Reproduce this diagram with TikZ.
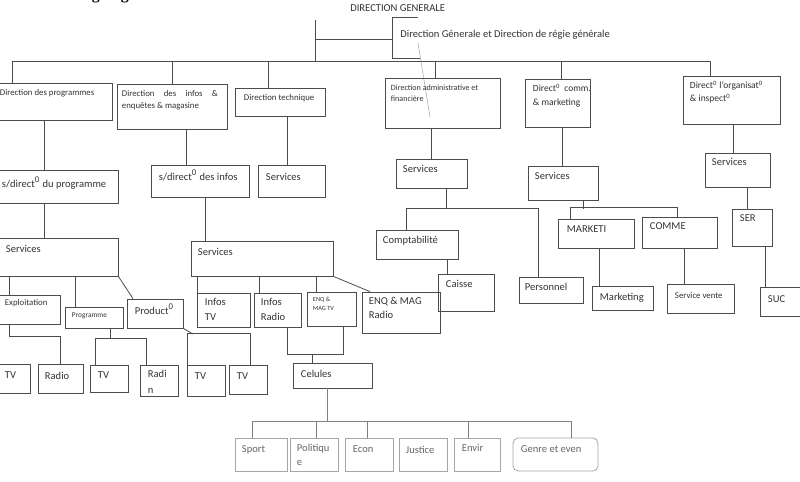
\documentclass[tikz,border=0pt]{standalone}
\usepackage{fontspec}
\setmainfont{Carlito}
\newfontfamily\titlefont{Liberation Serif}
\usetikzlibrary{fit}

\tikzset{
  box/.style={draw=black!70, line width=0.45pt, inner sep=0pt},
  pale/.style={box, draw=black!35},
  lbl/.style={anchor=north west, inner sep=0pt, align=left, text=black!80,
    font=\fontsize{6}{8}\selectfont},
  smalltxt/.style={font=\fontsize{5}{7}\selectfont},
  tinytxt/.style={font=\fontsize{4.2}{5.4}\selectfont},
  link/.style={draw=black!70, line width=0.45pt},
}

\begin{document}
\begin{tikzpicture}[x=0.02cm, y=-0.02cm]
\useasboundingbox (0,0) rectangle (800,481);
\fill[white] (0,0) rectangle (800,481);

% title, cut by the top edge
\node[anchor=south west, inner sep=0pt, font=\titlefont\bfseries\fontsize{9}{9}\selectfont] (titre) at (55,3) {7. Organigramme};

% top: direction generale
\node[lbl] (dg) at (350,4) {DIRECTION GENERALE};
\node[lbl] (dgr) at (400,30) {Direction Génerale et Direction de régie générale};
\coordinate (trunk) at (315,20);
\coordinate (bus) at (315,61);
\draw[link] (trunk) -- (bus);
\draw[link] (trunk |- 0,39) -- (392,39);
\draw[link] (418,17) -| (392,58) -- (420,58);
\draw[black!35, line width=0.3pt] (418,43) -- (430,117);

% first level
\node[box, fit={(-5,83) (112,120)}] (dprog) {};
\node[lbl, smalltxt] at ([shift={(5,6)}]dprog.north west) {Direction des programmes};
\node[box, fit={(117,84) (227,129)}] (dinfo) {};
\node[lbl, smalltxt, text width=1.92cm, align=justify] at ([shift={(5,6)}]dinfo.north west) {Direction des infos \& \mbox{enquêtes} \& magasine};
\node[box, fit={(235,88) (325,116)}] (dtech) {};
\node[lbl, smalltxt] at ([shift={(9,6)}]dtech.north west) {Direction technique};
\node[box, fit={(385,78) (500,128)}] (dadm) {};
\node[lbl, font=\fontsize{4.6}{6}\selectfont] at ([shift={(6,7)}]dadm.north west) {Direction administrative et\\financière};
\node[box, fit={(525,79) (590,127)}] (dcom) {};
\node[lbl, font=\fontsize{5.4}{7.8}\selectfont, text width=1.16cm, align=justify] at ([shift={(8,5)}]dcom.north west) {Direct\textsuperscript{0} comm. \& marketing};
\node[box, fit={(683,76) (780,124)}] (dorg) {};
\node[lbl, font=\fontsize{5.4}{7.4}\selectfont] at ([shift={(7,5)}]dorg.north west) {Direct\textsuperscript{0} l'organisat\textsuperscript{0}\\\& inspect\textsuperscript{0}};

\draw[link] (dprog.north -| 12,0) |- (bus);
\draw[link] (dinfo.north -| 172,0) |- (bus);
\draw[link] (dtech.north -| 268,0) |- (bus);
\draw[link] (dadm.north -| 435,0) |- (bus);
\draw[link] (dcom.north -| 561,0) |- (bus);
\draw[link] (dorg.north -| 710,0) |- (bus);

% second level
\node[box, fit={(-5,170) (118,203)}] (sdprog) {};
\node[lbl] at ([shift={(7,7)}]sdprog.north west) {s/direct\textsuperscript{0} du programme};
\node[box, fit={(151,165) (249,197)}] (sdinf) {};
\node[lbl] at ([shift={(8,5)}]sdinf.north west) {s/direct\textsuperscript{0} des infos};
\node[box, fit={(258,165) (325,197)}] (stech) {};
\node[lbl] at ([shift={(8,8)}]stech.north west) {Services};
\node[box, fit={(396,159) (467,188)}] (sadm) {};
\node[lbl] at ([shift={(7,6)}]sadm.north west) {Services};
\node[box, fit={(528,166) (598,200)}] (scom) {};
\node[lbl] at ([shift={(7,6)}]scom.north west) {Services};
\node[box, fit={(705,153) (770,187)}] (sorg) {};
\node[lbl] at ([shift={(7,5)}]sorg.north west) {Services};

\draw[link] (dprog.south -| 44,0) -- (sdprog.north -| 44,0);
\draw[link] (dinfo.south -| 186,0) -- (sdinf.north -| 186,0);
\draw[link] (dtech.south -| 287,0) -- (stech.north -| 287,0);
\draw[link] (dadm.south -| 431,0) -- (sadm.north -| 431,0);
\draw[link] (dcom.south -| 562,0) -- (scom.north -| 562,0);
\draw[link] (dorg.south -| 733,0) -- (sorg.north -| 733,0);

% services of the programmes and of the infos
\node[box, fit={(-5,238) (118,276)}] (sprog) {};
\node[lbl] at ([shift={(11,7)}]sprog.north west) {Services};
\node[box, fit={(191,241) (333,276)}] (sinf) {};
\node[lbl] at ([shift={(7,7)}]sinf.north west) {Services};
\draw[link] (sdprog.south -| 44,0) -- (sprog.north -| 44,0);
\draw[link] (sdinf.south -| 205,0) -- (sinf.north -| 205,0);

% admin
\node[box, fit={(376,230) (458,259)}] (compta) {};
\node[lbl] at ([shift={(7,6)}]compta.north west) {Comptabilité};
\node[box, fit={(438,274) (494,311)}] (caisse) {};
\node[lbl] at ([shift={(8,6)}]caisse.north west) {Caisse};
\node[box, fit={(519,277) (583,303)}] (perso) {};
\node[lbl] at ([shift={(6,6)}]perso.north west) {Personnel};
\draw[link] (sadm.south -| 446,0) -- ++(0,21);
\draw[link] (compta.north -| 406,0) -- ++(0,-21) -| (perso.north -| 538,0);
\draw[link] (compta.south -| 447,0) -- (caisse.north -| 447,0);

% comm
\node[box, fit={(558,219) (634,248)}] (mkt) {};
\node[lbl] at ([shift={(9,7)}]mkt.north west) {MARKETI};
\node[box, fit={(642,217) (717,248)}] (comme) {};
\node[lbl] at ([shift={(8,6)}]comme.north west) {COMME};
\node[box, fit={(592,286) (653,310)}] (mktg) {};
\node[lbl] at ([shift={(8,7)}]mktg.north west) {Marketing};
\node[box, fit={(667,284) (734,313)}] (svente) {};
\node[lbl, smalltxt] at ([shift={(8,8)}]svente.north west) {Service vente};
\draw[link] (scom.south -| 583,0) -- ++(0,9);
\draw[link] (mkt.north -| 570,0) -- ++(0,-11) -| (comme.north -| 677,0);
\draw[link] (mkt.south -| 599,0) -- (mktg.north -| 599,0);
\draw[link] (comme.south -| 684,0) -- (svente.north -| 684,0);

% organisation
\node[box, fit={(732,209) (772,246)}] (ser) {};
\node[lbl] at ([shift={(8,6)}]ser.north west) {SER};
\node[box, fit={(760,287) (805,316)}] (suc) {};
\node[lbl] at ([shift={(8,9)}]suc.north west) {SUC};
\draw[link] (sorg.south -| 747,0) -- (ser.north -| 747,0);
\draw[link] (ser.south -| 765,0) -- (suc.north -| 765,0);

% under services of the programmes
\node[box, fit={(-5,295) (60,324)}] (expl) {};
\node[lbl, smalltxt] at ([shift={(10,4)}]expl.north west) {Exploitation};
\node[box, fit={(65,307) (123,328)}] (progm) {};
\node[lbl, tinytxt] at ([shift={(7,6)}]progm.north west) {Programme};
\node[box, fit={(127,299) (183,328)}] (prod) {};
\node[lbl] at ([shift={(8,5)}]prod.north west) {Product\textsuperscript{0}};
\draw[link] (sprog.south -| 9,0) -- (expl.north -| 9,0);
\draw[link] (sprog.south -| 75,0) -- (progm.north -| 75,0);
\draw[link] (sprog.south east) -- (prod.north -| 133,0);

\node[box, fit={(-5,364) (30,393)}] (tva) {};
\node[lbl] at ([shift={(10,8)}]tva.north west) {TV};
\node[box, fit={(38,364) (83,393)}] (radioa) {};
\node[lbl] at ([shift={(7,8)}]radioa.north west) {Radio};
\node[box, fit={(90,365) (128,392)}] (tvb) {};
\node[lbl] at ([shift={(8,7)}]tvb.north west) {TV};
\node[box, fit={(140,365) (178,396)}] (radib) {};
\node[lbl, font=\fontsize{6}{9}\selectfont] at ([shift={(8,5)}]radib.north west) {Radi\\n};
\node[box, fit={(187,365) (225,396)}] (tvc) {};
\node[lbl] at ([shift={(8,8)}]tvc.north west) {TV};
\node[box, fit={(229,365) (267,394)}] (tvd) {};
\node[lbl] at ([shift={(8,8)}]tvd.north west) {TV};

\draw[link] (expl.south -| 9,0) -- ++(0,12) -| (radioa.north -| 60,0);
\coordinate (pj) at (110,339);
\draw[link] (progm.south -| 110,0) -- (pj);
\draw[link] (tvb.north -| 95,0) -- ++(0,-26) -| (radib.north -| 146,0);
\coordinate (qj) at (193,334);
\draw[link] (prod.south east) -- (qj);
\draw[link] (tvc.north -| 187,0) -- ++(0,-31) -| (tvd.north -| 250,0);

% under services of the infos
\node[box, fit={(197,293) (250,327)}] (inftv) {};
\node[lbl, font=\fontsize{6}{8.6}\selectfont] at ([shift={(8,5)}]inftv.north west) {Infos\\TV};
\node[box, fit={(254,293) (301,327)}] (infradio) {};
\node[lbl, font=\fontsize{6}{8.6}\selectfont] at ([shift={(7,5)}]infradio.north west) {Infos\\Radio};
\node[box, fit={(307,292) (356,326)}] (enqtv) {};
\node[lbl, font=\fontsize{3.6}{5}\selectfont] at ([shift={(6,5)}]enqtv.north west) {ENQ \&\\MAG TV};
\node[box, fit={(362,292) (440,333)}] (enqradio) {};
\node[lbl, font=\fontsize{6}{8}\selectfont] at ([shift={(7,5)}]enqradio.north west) {ENQ \& MAG\\Radio};
\draw[link] (sinf.south -| 197,0) -- (inftv.north -| 197,0);
\draw[link] (sinf.south -| 259,0) -- (infradio.north -| 259,0);
\draw[link] (sinf.south -| 316,0) -- (enqtv.north -| 316,0);
\draw[link] (sinf.south east) -- (enqradio.north -| 370,0);

\node[box, fit={(293,363) (372,388)}] (cel) {};
\node[lbl] at ([shift={(8,7)}]cel.north west) {Celules};
\coordinate (cj) at (312,354);
\draw[link] (infradio.south -| 287,0) -- (287,354) -- (343,354) -- (enqtv.south -| 343,0);
\draw[link] (cel.north -| cj) -- (cj);

% cellules
\node[pale, fit={(235,438) (287,471)}] (sport) {};
\node[lbl, text=black!60] at ([shift={(7,8)}]sport.north west) {Sport};
\node[pale, fit={(290,438) (338,471)}] (polit) {};
\node[lbl, text=black!60, font=\fontsize{6}{8}\selectfont] at ([shift={(7,6)}]polit.north west) {Politiqu\\e};
\node[pale, fit={(345,438) (393,471)}] (econ) {};
\node[lbl, text=black!60] at ([shift={(8,8)}]econ.north west) {Econ};
\node[pale, fit={(399,438) (447,471)}] (justice) {};
\node[lbl, text=black!60] at ([shift={(7,8)}]justice.north west) {Justice};
\node[pale, fit={(454,438) (500,471)}] (envir) {};
\node[lbl, text=black!60] at ([shift={(8,6)}]envir.north west) {Envir};
\node[pale, rounded corners=3pt, fit={(513,438) (598,471)}] (genre) {};
\node[lbl, text=black!60] at ([shift={(8,8)}]genre.north west) {Genre et even};

\coordinate (cbus) at (327,421);
\draw[link, draw=black!50] (cel.south -| cbus) -- (cbus);
\draw[link, draw=black!50] (sport.north -| 252,0) |- (cbus);
\draw[link, draw=black!50] (polit.north -| 316,0) |- (cbus);
\draw[link, draw=black!50] (econ.north -| 367,0) |- (cbus);
\draw[link, draw=black!50] (envir.north -| 468,0) |- (cbus);
\draw[link, draw=black!50] (genre.north -| 571,0) |- (cbus);
\end{tikzpicture}
\end{document}
